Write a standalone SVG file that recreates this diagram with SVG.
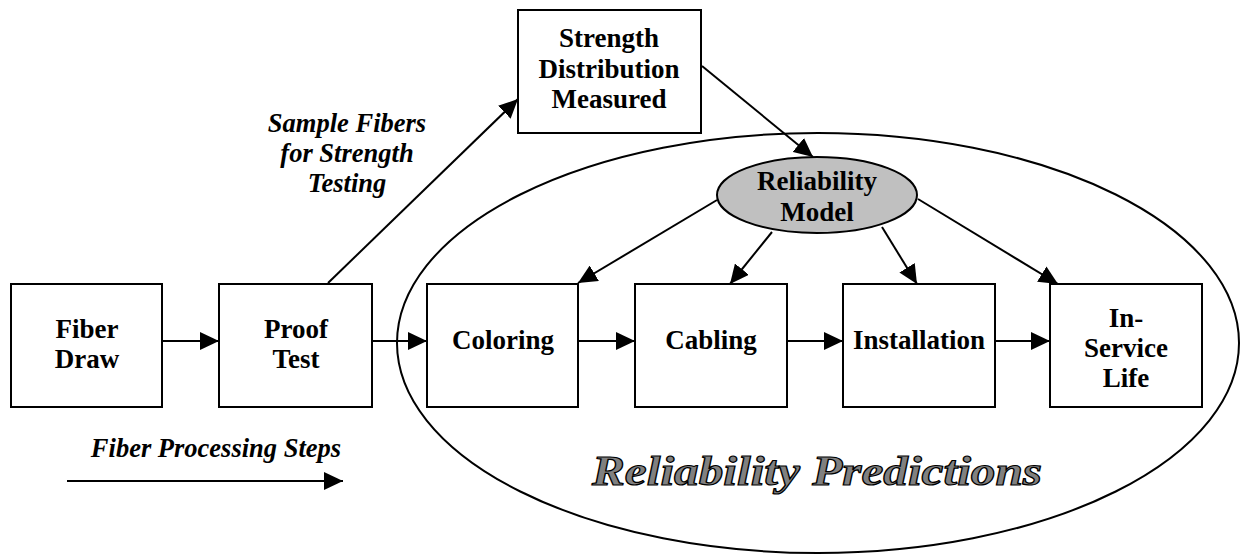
<svg xmlns="http://www.w3.org/2000/svg" width="1241" height="555" viewBox="0 0 1241 555">
<style>
.box{fill:#fff;stroke:#000;stroke-width:2}
.t{font-family:"Liberation Serif",serif;font-weight:bold;font-size:27px;fill:#000;text-anchor:middle}
.it{font-family:"Liberation Serif",serif;font-weight:bold;font-style:italic;font-size:26.5px;fill:#000;text-anchor:middle}
.c{fill:none;stroke:#000;stroke-width:2}
.wa{font-family:"Liberation Serif",serif;font-weight:bold;font-style:italic;font-size:42px;fill:#808080;stroke:#000;stroke-width:1.2}
</style>
<defs>
<marker id="ah" markerWidth="19" markerHeight="18" refX="19" refY="9" orient="auto" markerUnits="userSpaceOnUse">
<path d="M0,0 L19,9 L0,18 Z" fill="#000"/>
</marker>
</defs>
<rect width="1241" height="555" fill="#fff"/>
<g id="predictions-region">
<ellipse cx="818" cy="343" rx="421" ry="210" fill="none" stroke="#000" stroke-width="2"/>
<text class="wa" x="592" y="485" textLength="450" lengthAdjust="spacingAndGlyphs">Reliability Predictions</text>
</g>
<g id="fiber-draw">
<rect class="box" x="11" y="284" width="151" height="123"/>
<text class="t" x="87" y="338">Fiber</text>
<text class="t" x="87" y="368">Draw</text>
</g>
<g id="proof-test">
<rect class="box" x="219" y="284" width="153" height="123"/>
<text class="t" x="296" y="338">Proof</text>
<text class="t" x="296" y="368">Test</text>
</g>
<g id="coloring">
<rect class="box" x="427" y="284" width="151" height="123"/>
<text class="t" x="503" y="349">Coloring</text>
</g>
<g id="cabling">
<rect class="box" x="635" y="284" width="152" height="123"/>
<text class="t" x="711" y="349">Cabling</text>
</g>
<g id="installation">
<rect class="box" x="843" y="284" width="152" height="123"/>
<text class="t" x="919" y="349">Installation</text>
</g>
<g id="in-service-life">
<rect class="box" x="1050" y="284" width="152" height="123"/>
<text class="t" x="1126" y="327">In-</text>
<text class="t" x="1126" y="357">Service</text>
<text class="t" x="1126" y="387">Life</text>
</g>
<g id="strength-distribution">
<rect class="box" x="518" y="10" width="183" height="123"/>
<text class="t" x="609" y="47">Strength</text>
<text class="t" x="609" y="78">Distribution</text>
<text class="t" x="609" y="108">Measured</text>
</g>
<g id="reliability-model">
<ellipse cx="817" cy="195" rx="100" ry="38" fill="#c0c0c0" stroke="#000" stroke-width="2"/>
<text class="t" x="817" y="190">Reliability</text>
<text class="t" x="817" y="221">Model</text>
</g>
<g id="labels">
<text class="it" x="347" y="132">Sample Fibers</text>
<text class="it" x="347" y="162">for Strength</text>
<text class="it" x="347" y="192">Testing</text>
<text class="it" x="216" y="457">Fiber Processing Steps</text>
</g>
<g id="connectors">
<line class="c" x1="162" y1="341" x2="219" y2="341" marker-end="url(#ah)"/>
<line class="c" x1="372" y1="341" x2="427" y2="341" marker-end="url(#ah)"/>
<line class="c" x1="578" y1="341" x2="635" y2="341" marker-end="url(#ah)"/>
<line class="c" x1="787" y1="341" x2="843" y2="341" marker-end="url(#ah)"/>
<line class="c" x1="995" y1="341" x2="1050" y2="341" marker-end="url(#ah)"/>
<line class="c" x1="328" y1="283" x2="518" y2="99" marker-end="url(#ah)"/>
<line class="c" x1="702" y1="66" x2="813" y2="157" marker-end="url(#ah)"/>
<line class="c" x1="717" y1="200" x2="578" y2="283" marker-end="url(#ah)"/>
<line class="c" x1="772" y1="232" x2="730" y2="284" marker-end="url(#ah)"/>
<line class="c" x1="882" y1="227" x2="917" y2="284" marker-end="url(#ah)"/>
<line class="c" x1="918" y1="199" x2="1058" y2="284" marker-end="url(#ah)"/>
<line class="c" x1="67" y1="481" x2="343" y2="481" marker-end="url(#ah)"/>
</g>
</svg>
